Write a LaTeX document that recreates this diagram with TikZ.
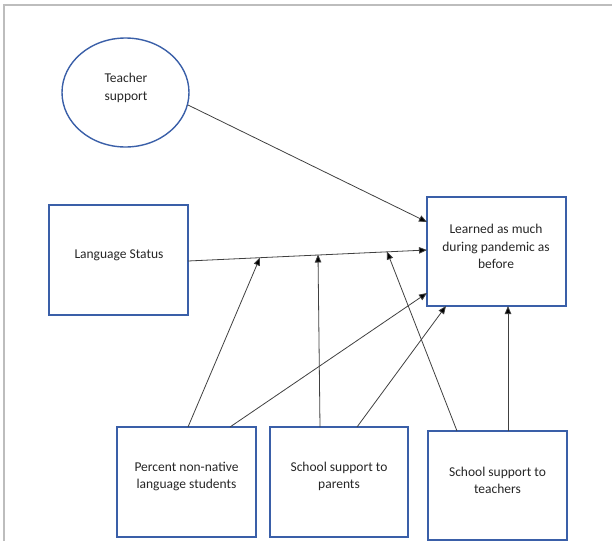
\documentclass[tikz,border=0pt]{standalone}
\usepackage{fontspec}
\setmainfont{Carlito}
\usetikzlibrary{arrows.meta,calc,shapes.geometric}
\definecolor{boxblue}{HTML}{3A5FA8}
\definecolor{linegray}{HTML}{404040}
\definecolor{framegray}{HTML}{BDBDBD}
\definecolor{txt}{HTML}{262626}
\tikzset{
  boxnode/.style={draw=boxblue, line width=1.4pt, rectangle, inner sep=0pt},
  ellnode/.style={draw=boxblue, line width=1.4pt, ellipse, inner sep=0pt},
  boxtext/.style={align=center, text=txt, font=\fontsize{13.5}{17.5}\selectfont},
  conn/.style={draw=linegray, line width=0.8pt, -{Triangle[length=8pt,width=6.5pt,fill=black]}},
  plainconn/.style={draw=linegray, line width=0.8pt}
}
\begin{document}
\begin{tikzpicture}[x=1pt,y=-1pt]
\useasboundingbox (0,0) rectangle (612,541);
% frame
\draw[framegray, line width=1.2pt] (4,541) -- (4,5) -- (612,5);

% nodes
\node[ellnode, minimum width=127pt, minimum height=109pt] (ts) at (125.5,92.5) {};
\node[boxtext] (tsT) at (126,88) {Teacher\\support};

\node[boxnode, minimum width=139pt, minimum height=110pt] (ls) at (118.5,260) {};
\node[boxtext] (lsT) at (119,255) {Language Status};

\node[boxnode, minimum width=139pt, minimum height=109pt] (lr) at (496.5,251.5) {};
\node[boxtext] (lrT) at (496,246.5) {Learned as much\\during pandemic as\\before};

\node[boxnode, minimum width=139pt, minimum height=110pt] (pn) at (186.5,482) {};
\node[boxtext] (pnT) at (186.5,476.5) {Percent non-native\\language students};

\node[boxnode, minimum width=138pt, minimum height=110pt] (sp) at (339,482) {};
\node[boxtext] (spT) at (339,476.5) {School support to\\parents};

\node[boxnode, minimum width=139pt, minimum height=109pt] (st) at (497.5,485.5) {};
\node[boxtext] (stT) at (497.5,480.5) {School support to\\teachers};

% attachment points
\coordinate (tsOut) at (188,105);
\coordinate (lrA) at (427,222);
\coordinate (lsOut) at (188,261);
\coordinate (lrB) at (427,250);
\coordinate (lrC) at (427,293);
\coordinate (lrD) at (446,306);
\coordinate (lrE) at (508,306);
\coordinate (m1) at (260,257.5);
\coordinate (m2) at (318,254.5);
\coordinate (m3) at (387,251.5);
\coordinate (pnA) at (188,427);
\coordinate (pnB) at (230,427);
\coordinate (spA) at (320,427);
\coordinate (spB) at (357,427);
\coordinate (stA) at (457,431);
\coordinate (stB) at (508,431);

% connectors
\draw[conn] (tsOut) -- (lrA);
\draw[conn] (lsOut) -- (lrB);
\draw[conn] (pnA) -- (m1);
\draw[conn] (spA) -- (m2);
\draw[conn] (stA) -- (m3);
\draw[conn] (pnB) -- (lrC);
\draw[conn] (spB) -- (lrD);
\draw[conn] (stB) -- (lrE);
\end{tikzpicture}
\end{document}
